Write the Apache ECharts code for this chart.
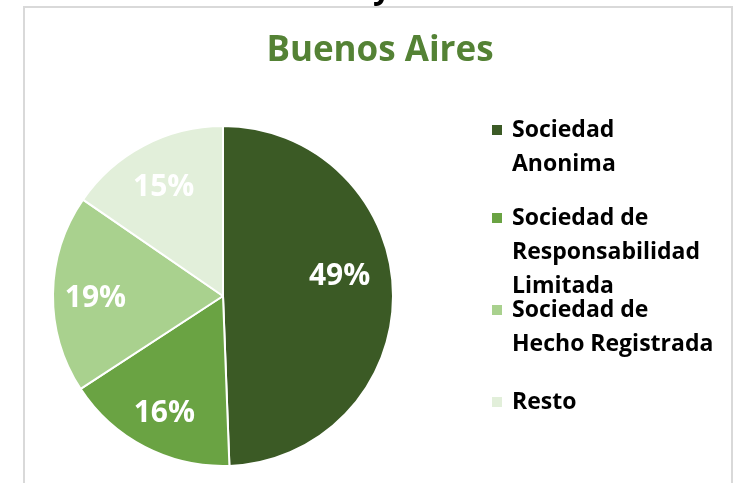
<!DOCTYPE html>
<html>
<head>
<meta charset="utf-8">
<script src="https://cdn.jsdelivr.net/npm/echarts@6/dist/echarts.min.js"></script>
<style>
  html, body { margin: 0; padding: 0; background: #fff; }
  #chart { width: 739px; height: 483px; }
</style>
</head>
<body>
<div id="chart"></div>
<script>
const categories = ['Sociedad\nAnonima', 'Sociedad de\nResponsabilidad\nLimitada', 'Sociedad de\nHecho Registrada', 'Resto']
const shares = [49.4, 16.4, 18.8, 15.4]
const colors = ['#3b5a25', '#6aa343', '#a9d18e', '#e2efda']

const FONT = '"Open Sans", "DejaVu Sans", sans-serif'
const center = [223, 296]
const radius = 170
const lineH = 34

// icon top y for each legend entry
const legendTops = [125, 213, 305, 397]

const chart = echarts.init(document.getElementById('chart'))

const legends = categories.map((name, i) => {
  const lines = name.split('\n').length
  const total = 2 * lines - 1
  return {
    orient: 'vertical',
    left: 492,
    // text block is centred on the icon; blank lines in front put the first line level with it
    top: legendTops[i] + 5 - total * lineH / 2,
    padding: 0,
    itemWidth: 10,
    itemHeight: 10,
    icon: 'rect',
    itemStyle: { borderWidth: 0 },
    selectedMode: false,
    data: [name],
    formatter: n => ' \n'.repeat(lines - 1) + n,
    textStyle: {
      fontFamily: FONT,
      fontWeight: 'bold',
      fontSize: 23,
      color: '#000',
      lineHeight: lineH,
      padding: [0, 0, 0, 5]
    }
  }
})

const option = {
  backgroundColor: '#fff',
  color: colors,
  animation: false,
  title: {
    text: 'Buenos Aires',
    left: 375,
    top: 29,
    textAlign: 'center',
    textStyle: {
      fontFamily: FONT,
      fontWeight: 'bold',
      fontSize: 35,
      color: '#548235'
    }
  },
  legend: legends,
  graphic: [
    {
      type: 'rect',
      shape: { x: 24, y: 7, width: 708, height: 520 },
      style: { fill: 'none', stroke: '#d9d9d9', lineWidth: 2 },
      silent: true
    },
    {
      type: 'text',
      x: 382,
      y: 5,
      style: {
        text: 'y',
        fontFamily: FONT,
        fontWeight: 'bold',
        fontSize: 32,
        fill: '#000',
        align: 'center',
        verticalAlign: 'bottom'
      },
      silent: true
    }
  ],
  series: [{
    type: 'pie',
    center: center,
    radius: radius,
    startAngle: 90,
    clockwise: true,
    data: categories.map((name, i) => ({ name: name, value: shares[i] })),
    itemStyle: { borderColor: '#fff', borderWidth: 2 },
    label: {
      position: 'inside',
      formatter: p => Math.round(p.value) + '%',
      fontFamily: FONT,
      fontWeight: 'bold',
      fontSize: 30,
      color: '#fff'
    },
    labelLine: { show: false },
    // push the inside labels further out, like the original
    labelLayout: params => {
      const r = params.labelRect
      const lx = r.x + r.width / 2
      const ly = r.y + r.height / 2
      const k = 1.45
      let x = center[0] + (lx - center[0]) * k
      let y = center[1] + (ly - center[1]) * k + 4
      if (params.dataIndex === 0) { x -= 11; y -= 21 }
      return { x: x, y: y }
    }
  }]
}

chart.setOption(option)
</script>
</body>
</html>
